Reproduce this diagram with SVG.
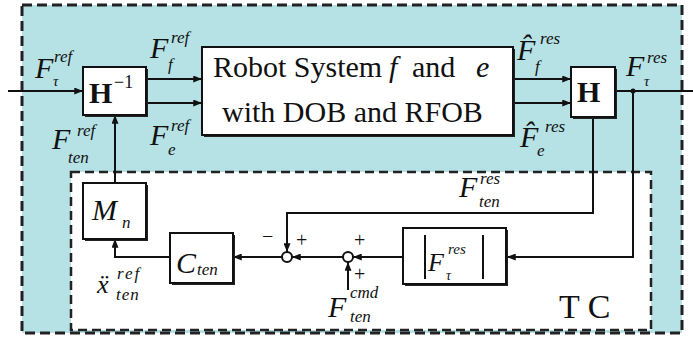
<svg xmlns="http://www.w3.org/2000/svg" width="693" height="343" viewBox="0 0 693 343">
<defs>
<marker id="ah" viewBox="0 0 10 8" refX="10" refY="4" markerWidth="9" markerHeight="7" markerUnits="userSpaceOnUse" orient="auto">
<path d="M0,0 L10,4 L0,8 Z" fill="#111"/>
</marker>
</defs>
<style>
.box{fill:#fff;stroke:#111;stroke-width:2}
.sh{fill:#222}
.ln{fill:none;stroke:#111;stroke-width:2}
.m{font-family:"Liberation Serif","DejaVu Serif",serif;font-style:italic;fill:#111}
.big{font-size:30px}
.sup{font-size:17px}
.rm{font-family:"Liberation Serif","DejaVu Serif",serif;fill:#111}
.bd{font-family:"Liberation Serif","DejaVu Serif",serif;font-weight:bold;fill:#111}
</style>
<rect width="693" height="343" fill="#fff"/>
<rect x="22" y="5" width="660" height="328" fill="#b6e1e5" stroke="#222" stroke-width="3" stroke-dasharray="10 5"/>
<rect x="71" y="172" width="580" height="158" fill="#fff" stroke="#222" stroke-width="2.5" stroke-dasharray="9 5"/>

<g id="connectors">
<path class="ln" d="M8,91 H83" marker-end="url(#ah)"/>
<path class="ln" d="M146,79 H202" marker-end="url(#ah)"/>
<path class="ln" d="M146,103 H202" marker-end="url(#ah)"/>
<path class="ln" d="M513,79 H571" marker-end="url(#ah)"/>
<path class="ln" d="M513,103 H571" marker-end="url(#ah)"/>
<path class="ln" d="M617,91 H693"/>
<circle cx="633" cy="91" r="2.5" fill="#111"/>
<path class="ln" d="M593,119 V213 H287 V252" marker-end="url(#ah)"/>
<path class="ln" d="M633,91 V257 H507" marker-end="url(#ah)"/>
<path class="ln" d="M405,257 H353" marker-end="url(#ah)"/>
<path class="ln" d="M348,290 V262" marker-end="url(#ah)"/>
<path class="ln" d="M343,257 H292" marker-end="url(#ah)"/>
<path class="ln" d="M282,257 H233" marker-end="url(#ah)"/>
<path class="ln" d="M170,257 H115 V239" marker-end="url(#ah)"/>
<path class="ln" d="M115,183 V115" marker-end="url(#ah)"/>
</g>

<g id="Hinv">
<rect class="sh" x="85" y="69" width="63" height="48"/>
<rect class="box" x="83" y="67" width="63" height="48"/>
<text class="bd" x="89" y="103" font-size="30">H</text>
<text class="rm" x="114" y="88" font-size="18">−1</text>
</g>

<g id="robot">
<rect class="sh" x="204" y="49" width="311" height="88"/>
<rect class="box" x="202" y="47" width="311" height="88"/>
<text class="rm" font-size="30" y="77"><tspan x="213">Robot System</tspan><tspan x="389" font-style="italic">f</tspan><tspan x="412">and</tspan><tspan x="476" font-style="italic">e</tspan></text>
<text class="rm" font-size="30" x="222" y="122">with DOB and RFOB</text>
</g>

<g id="H">
<rect class="sh" x="573" y="69" width="44" height="50"/>
<rect class="box" x="571" y="67" width="44" height="50"/>
<text class="bd" x="577" y="102" font-size="30">H</text>
</g>

<g id="Mn">
<rect class="sh" x="85" y="185" width="63" height="56"/>
<rect class="box" x="83" y="183" width="63" height="56"/>
<text class="m" x="92" y="220" font-size="30">M</text>
<text class="m" x="122" y="228" font-size="17">n</text>
</g>

<g id="Cten">
<rect class="sh" x="172" y="235" width="63" height="50"/>
<rect class="box" x="170" y="233" width="63" height="50"/>
<text class="m" x="176" y="273" font-size="30">C</text>
<text class="m" x="197" y="275" font-size="17">ten</text>
</g>

<g id="absF">
<rect class="sh" x="405" y="230" width="103" height="56"/>
<rect class="box" x="403" y="228" width="103" height="56"/>
<path class="ln" d="M425,235 V279 M483,235 V279" stroke-width="1.5"/>
<text class="m" x="428" y="271" font-size="26">F</text>
<text class="m" x="448" y="254" font-size="15">res</text>
<text class="m" x="446" y="280" font-size="14">τ</text>
</g>

<g id="sum1">
<circle cx="287" cy="257" r="5" fill="#fff" stroke="#111" stroke-width="2"/>
<text class="rm" x="262" y="243" font-size="20">−</text>
<text class="rm" x="296" y="247" font-size="20">+</text>
</g>
<g id="sum2">
<circle cx="348" cy="257" r="5" fill="#fff" stroke="#111" stroke-width="2"/>
<text class="rm" x="354" y="247" font-size="20">+</text>
<text class="rm" x="354" y="281" font-size="20">+</text>
</g>

<g id="labels">
<text class="m big" x="35" y="78">F</text><text class="m sup" x="54" y="62">ref</text><text class="m" x="53" y="86" font-size="15">τ</text>
<text class="m big" x="150" y="58">F</text><text class="m sup" x="171" y="43">ref</text><text class="m sup" x="168" y="70">f</text>
<text class="m big" x="150" y="145">F</text><text class="m sup" x="171" y="131">ref</text><text class="m sup" x="168" y="155">e</text>
<text class="m big" x="52" y="149">F</text><text class="m sup" x="77" y="136">ref</text><text class="m sup" x="68" y="163">ten</text>
<text class="m big" x="517" y="60">F̂</text><text class="m sup" x="540" y="44">res</text><text class="m sup" x="535" y="72">f</text>
<text class="m big" x="520" y="147">F̂</text><text class="m sup" x="545" y="132">res</text><text class="m sup" x="537" y="156">e</text>
<text class="m big" x="626" y="76">F</text><text class="m sup" x="647" y="63">res</text><text class="m" x="644" y="86" font-size="15">τ</text>
<text class="m big" x="459" y="197">F</text><text class="m sup" x="480" y="184">res</text><text class="m sup" x="479" y="207">ten</text>
<text class="m big" x="328" y="317">F</text><text class="m sup" x="350" y="298">cmd</text><text class="m sup" x="350" y="322">ten</text>
<text class="m" x="97" y="293" font-size="26">ẍ</text><text class="m" x="117" y="279" font-size="17" letter-spacing="2">ref</text><text class="m" x="116" y="300" font-size="17" letter-spacing="1">ten</text>
<text class="rm" x="559" y="318" font-size="34">T C</text>
</g>
</svg>
